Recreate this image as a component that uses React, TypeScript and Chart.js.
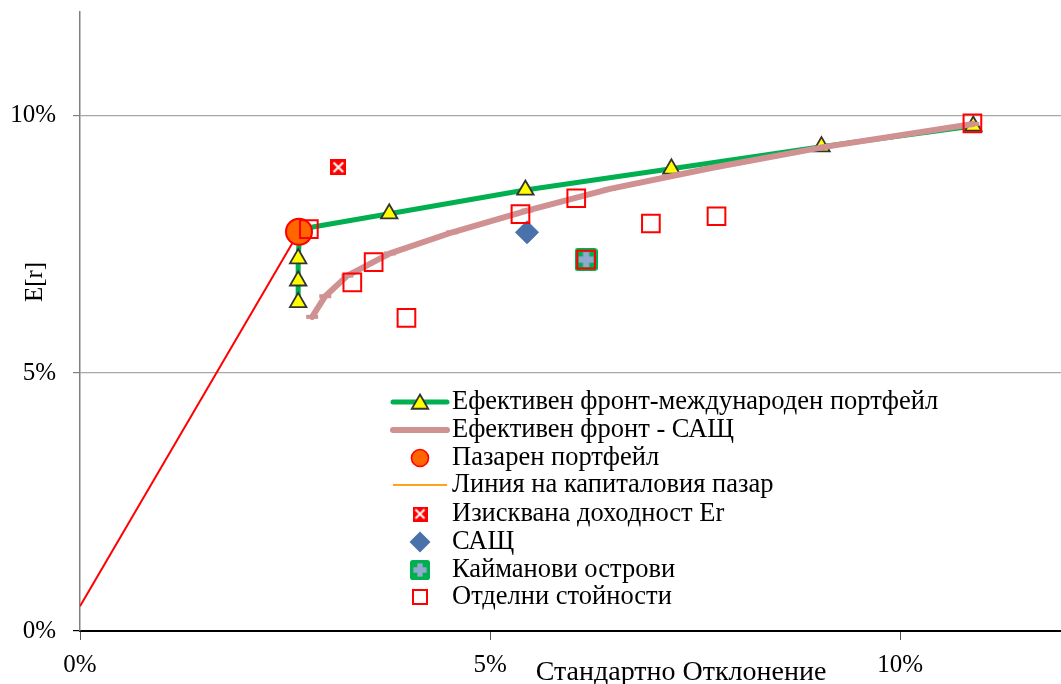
import { useEffect, useRef } from 'react';
import { Chart, registerables } from 'chart.js';

Chart.register(...registerables);

// ---------- data (percent) ----------
const intlFrontX = [2.66, 2.66, 2.66, 2.68, 3.77, 5.43, 7.21, 9.04, 10.89];
const intlFrontY = [6.37, 6.79, 7.22, 7.79, 8.09, 8.55, 8.96, 9.39, 9.79];
const intlFrontMarker = [true, true, true, false, true, true, true, true, true];

const usFrontX = [2.83, 2.99, 3.26, 3.78, 4.54, 5.45, 6.46, 7.71, 9.1, 10.89];
const usFrontY = [6.09, 6.49, 6.89, 7.32, 7.73, 8.15, 8.57, 8.98, 9.39, 9.83];

const marketX = [2.67];
const marketY = [7.74];

const cmlX = [0, 2.67];
const cmlY = [0.48, 7.74];

const requiredX = [3.15];
const requiredY = [8.99];

const usaX = [5.45];
const usaY = [7.73];

const caymanX = [6.17];
const caymanY = [7.2];

const singleX = [2.79, 3.58, 3.32, 3.98, 5.37, 6.05, 6.96, 7.76, 10.88, 6.17];
const singleY = [7.79, 7.15, 6.76, 6.07, 8.08, 8.39, 7.9, 8.04, 9.84, 7.2];

const xTicks = [0, 5, 10];
const yTicks = [0, 5, 10];
const xMax = 11.96;
const yMax = 12;

const legendLabels = [
  'Ефективен фронт-международен портфейл',
  'Ефективен фронт - САЩ',
  'Пазарен портфейл',
  'Линия на капиталовия пазар',
  'Изисквана доходност Er',
  'САЩ',
  'Кайманови острови',
  'Отделни стойности',
];
const xTitle = 'Стандартно Отклонение';
const yTitle = 'E[r]';

// ---------- styles ----------
const FONT = '"Liberation Serif", "Times New Roman", serif';
const GREEN = '#00B050';
const PINK = '#CF9191';
const RED = '#FF0000';
const ORANGE_FILL = '#FF6600';
const CML_LEGEND = '#FFA21F';
const BLUE = '#4A72AA';
const PLUS = '#93A9D1';
const YELLOW = '#FFFF00';
const TRI_BORDER = '#333333';

const pts = (xs: number[], ys: number[]) => xs.map((x, i) => ({ x, y: ys[i] }));

function makeXMarker(s: number) {
  const c = document.createElement('canvas');
  c.width = s;
  c.height = s;
  const g = c.getContext('2d')!;
  g.fillStyle = RED;
  g.fillRect(0, 0, s, s);
  g.strokeStyle = '#ffffff';
  g.lineWidth = Math.max(1.6, s * 0.13);
  g.beginPath();
  g.moveTo(s * 0.2, s * 0.2);
  g.lineTo(s * 0.8, s * 0.8);
  g.moveTo(s * 0.8, s * 0.2);
  g.lineTo(s * 0.2, s * 0.8);
  g.stroke();
  return c;
}

function makeCayman(s: number) {
  const c = document.createElement('canvas');
  c.width = s;
  c.height = s;
  const g = c.getContext('2d')!;
  const r = s * 0.14;
  g.fillStyle = GREEN;
  g.beginPath();
  g.moveTo(r, 0);
  g.lineTo(s - r, 0);
  g.quadraticCurveTo(s, 0, s, r);
  g.lineTo(s, s - r);
  g.quadraticCurveTo(s, s, s - r, s);
  g.lineTo(r, s);
  g.quadraticCurveTo(0, s, 0, s - r);
  g.lineTo(0, r);
  g.quadraticCurveTo(0, 0, r, 0);
  g.fill();
  g.fillStyle = PLUS;
  const t = s * 0.27;
  const L = s * 0.66;
  g.fillRect((s - t) / 2, (s - L) / 2, t, L);
  g.fillRect((s - L) / 2, (s - t) / 2, L, t);
  return c;
}

const zeroPad = (s: any) => {
  s.paddingTop = 0;
  s.paddingBottom = 0;
  s.paddingLeft = 0;
  s.paddingRight = 0;
};

export default function App() {
  const ref = useRef<HTMLCanvasElement | null>(null);

  useEffect(() => {
    const canvas = ref.current;
    if (!canvas) return;

    const xMarker = makeXMarker(16);
    const xMarkerSmall = makeXMarker(15);
    const cayman = makeCayman(23);
    const caymanSmall = makeCayman(20);

    const overlay = {
      id: 'overlay',
      afterDraw(chart: any) {
        const ctx = chart.ctx as CanvasRenderingContext2D;
        ctx.save();
        // axis titles
        ctx.fillStyle = '#000';
        ctx.font = `28px ${FONT}`;
        ctx.textAlign = 'center';
        ctx.textBaseline = 'alphabetic';
        ctx.fillText(xTitle, 681, 680);

        ctx.save();
        ctx.translate(42, 282);
        ctx.rotate(-Math.PI / 2);
        ctx.font = `25px ${FONT}`;
        ctx.textAlign = 'center';
        ctx.textBaseline = 'alphabetic';
        ctx.fillText(yTitle, 0, 0);
        ctx.restore();

        // legend
        const x0 = 393;
        const x1 = 447;
        const cx = 420;
        const tx = 452;
        const rowY = [402, 430, 458, 485, 514, 542, 570, 597];
        ctx.font = `26.5px ${FONT}`;
        ctx.textAlign = 'left';
        ctx.textBaseline = 'middle';
        legendLabels.forEach((label, i) => {
          const y = rowY[i];
          ctx.save();
          if (i === 0) {
            ctx.strokeStyle = GREEN;
            ctx.lineWidth = 5;
            ctx.lineCap = 'round';
            ctx.beginPath();
            ctx.moveTo(x0, y);
            ctx.lineTo(x1, y);
            ctx.stroke();
            const r = 9.5;
            ctx.beginPath();
            ctx.moveTo(cx, y - r + 2);
            ctx.lineTo(cx + 0.866 * r, y + 0.5 * r + 2);
            ctx.lineTo(cx - 0.866 * r, y + 0.5 * r + 2);
            ctx.closePath();
            ctx.fillStyle = YELLOW;
            ctx.fill();
            ctx.strokeStyle = TRI_BORDER;
            ctx.lineWidth = 1.8;
            ctx.stroke();
          } else if (i === 1) {
            ctx.strokeStyle = PINK;
            ctx.lineWidth = 6;
            ctx.lineCap = 'round';
            ctx.beginPath();
            ctx.moveTo(x0, y);
            ctx.lineTo(x1, y);
            ctx.stroke();
          } else if (i === 2) {
            ctx.beginPath();
            ctx.arc(cx, y, 8.5, 0, Math.PI * 2);
            ctx.fillStyle = ORANGE_FILL;
            ctx.fill();
            ctx.strokeStyle = RED;
            ctx.lineWidth = 1.6;
            ctx.stroke();
          } else if (i === 3) {
            ctx.strokeStyle = CML_LEGEND;
            ctx.lineWidth = 2;
            ctx.beginPath();
            ctx.moveTo(x0, y);
            ctx.lineTo(x1, y);
            ctx.stroke();
          } else if (i === 4) {
            ctx.drawImage(xMarkerSmall, cx - 7.5, y - 7.5);
          } else if (i === 5) {
            const r = 10.5;
            ctx.beginPath();
            ctx.moveTo(cx - r, y);
            ctx.lineTo(cx, y - r);
            ctx.lineTo(cx + r, y);
            ctx.lineTo(cx, y + r);
            ctx.closePath();
            ctx.fillStyle = BLUE;
            ctx.fill();
          } else if (i === 6) {
            ctx.drawImage(caymanSmall, cx - 10, y - 10);
          } else if (i === 7) {
            ctx.strokeStyle = RED;
            ctx.lineWidth = 2;
            ctx.strokeRect(cx - 7, y - 7, 14, 14);
          }
          ctx.restore();
          ctx.fillStyle = '#000';
          ctx.fillText(label, tx, y);
        });
        ctx.restore();
      },
    };

    const chart = new Chart(canvas, {
      type: 'scatter',
      data: {
        datasets: [
          {
            label: legendLabels[7],
            data: pts(singleX, singleY),
            pointStyle: 'rect',
            pointRadius: 12.5,
            pointBorderColor: RED,
            pointBorderWidth: 2,
            pointBackgroundColor: 'rgba(0,0,0,0)',
            order: 0,
          },
          {
            label: legendLabels[4],
            data: pts(requiredX, requiredY),
            pointStyle: xMarker,
            pointRadius: 8,
            order: 1,
          },
          {
            label: legendLabels[6],
            data: pts(caymanX, caymanY),
            pointStyle: cayman,
            pointRadius: 11,
            order: 2,
          },
          {
            label: legendLabels[5],
            data: pts(usaX, usaY),
            pointStyle: 'rectRot',
            pointRadius: 11.5,
            pointBackgroundColor: BLUE,
            pointBorderColor: BLUE,
            pointBorderWidth: 1,
            order: 3,
          },
          {
            label: legendLabels[2],
            data: pts(marketX, marketY),
            pointStyle: 'circle',
            pointRadius: 13,
            pointBackgroundColor: ORANGE_FILL,
            pointBorderColor: RED,
            pointBorderWidth: 2,
            order: 4,
          },
          {
            label: legendLabels[1],
            data: pts(usFrontX, usFrontY),
            showLine: true,
            borderColor: PINK,
            borderWidth: 6,
            borderCapStyle: 'round',
            borderJoinStyle: 'round',
            tension: 0,
            pointStyle: 'line',
            pointRadius: 6,
            pointBorderColor: PINK,
            pointBorderWidth: 4,
            order: 5,
          },
          {
            label: legendLabels[0],
            data: pts(intlFrontX, intlFrontY),
            showLine: true,
            borderColor: GREEN,
            borderWidth: 5,
            borderJoinStyle: 'round',
            tension: 0,
            pointStyle: 'triangle',
            pointRadius: intlFrontMarker.map((m) => (m ? 9.5 : 0)),
            pointBackgroundColor: YELLOW,
            pointBorderColor: TRI_BORDER,
            pointBorderWidth: 1.8,
            order: 6,
          },
          {
            label: legendLabels[3],
            data: pts(cmlX, cmlY),
            showLine: true,
            borderColor: RED,
            borderWidth: 2,
            pointRadius: 0,
            tension: 0,
            order: 7,
          },
        ] as any,
      },
      options: {
        animation: false,
        responsive: false,
        events: [],
        layout: { autoPadding: false, padding: { top: 12, left: 0, right: 0, bottom: 0 } },
        plugins: {
          legend: { display: false },
          tooltip: { enabled: false },
          title: { display: false },
        },
        scales: {
          x: {
            type: 'linear',
            min: 0,
            max: xMax,
            afterBuildTicks: (s: any) => {
              s.ticks = xTicks.map((v) => ({ value: v }));
            },
            afterFit: (s: any) => {
              s.height = 53;
              zeroPad(s);
            },
            ticks: {
              callback: (v: any) => `${v}%`,
              font: { family: FONT, size: 25 },
              color: '#000',
              padding: 10,
              maxRotation: 0,
              autoSkip: false,
            },
            grid: {
              drawOnChartArea: false,
              tickLength: 9,
              tickColor: '#555',
              lineWidth: 1,
            },
            border: { color: '#000', width: 2 },
          },
          y: {
            type: 'linear',
            min: 0,
            max: yMax,
            afterBuildTicks: (s: any) => {
              s.ticks = yTicks.map((v) => ({ value: v }));
            },
            afterFit: (s: any) => {
              s.width = 80;
              zeroPad(s);
            },
            ticks: {
              callback: (v: any) => `${v}%`,
              font: { family: FONT, size: 25 },
              color: '#000',
              padding: 17,
              autoSkip: false,
            },
            grid: {
              color: (c: any) => (c.tick && c.tick.value === 0 ? 'rgba(0,0,0,0)' : '#A8A8A8'),
              tickColor: (c: any) => (c.tick && c.tick.value === 0 ? '#000' : '#808080'),
              tickLength: 7,
              lineWidth: 1.2,
            },
            border: { color: '#808080', width: 1.5 },
          },
        },
      } as any,
      plugins: [overlay],
    });

    return () => {
      chart.destroy();
    };
  }, []);

  return (
    <div style={{ position: 'fixed', left: 0, top: 0, width: 1061, height: 684, background: '#fff' }}>
      <canvas ref={ref} width={1061} height={684} style={{ display: 'block' }} />
    </div>
  );
}
